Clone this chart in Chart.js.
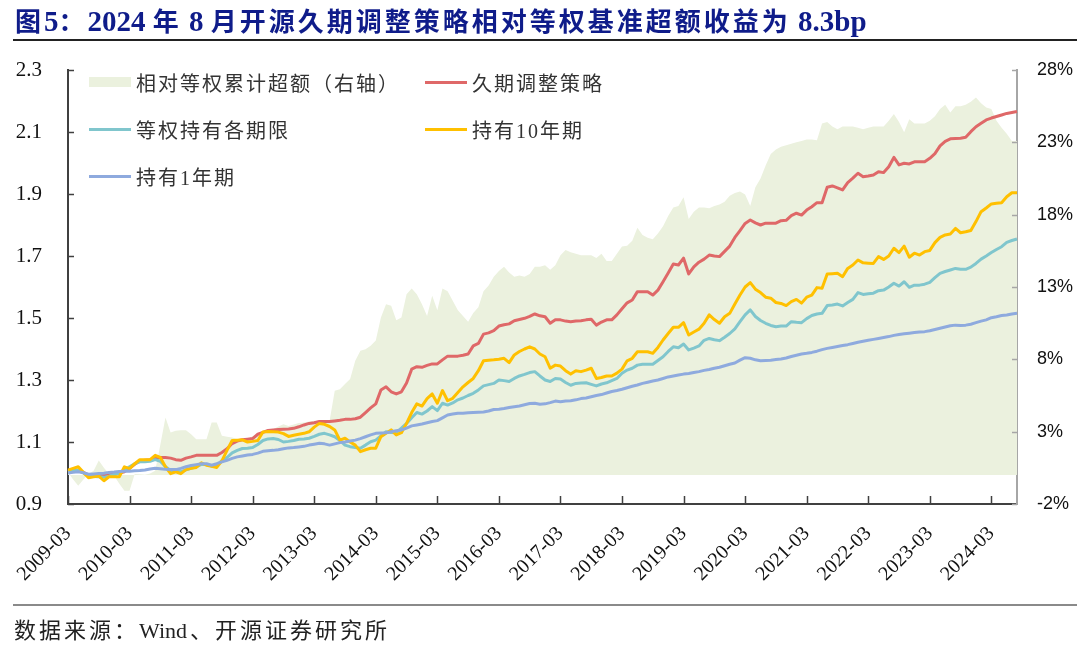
<!DOCTYPE html>
<html>
<head>
<meta charset="utf-8">
<script src="https://cdn.jsdelivr.net/npm/chart.js@4.4.1/dist/chart.umd.min.js"></script>
<style>
  body { margin: 0; background: #fff; }
  #wrap { position: relative; width: 1080px; height: 648px; overflow: hidden; }
  #chart { position: absolute; left: 0; top: 0; }
  #title { position: absolute; left: 15px; top: 1px; font-family: "Liberation Serif", "Noto Sans CJK SC", serif; font-weight: bold; font-size: 26px; letter-spacing: 3px; color: #0f1c8a; white-space: nowrap; }
  #title .n { font-size: 29px; letter-spacing: 0; }
  .rule { position: absolute; left: 13px; width: 1064px; }
  #source { position: absolute; left: 14px; top: 612px; font-family: "Liberation Serif", "Noto Sans CJK SC", serif; font-size: 22px; letter-spacing: 3px; color: #222; white-space: nowrap; }
  #source .w { letter-spacing: 0; margin-right: 3px; }
  .leg { position: absolute; height: 26px; display: flex; align-items: center; font-family: "Liberation Serif", "Noto Sans CJK SC", serif; font-size: 20px; letter-spacing: 2px; color: #333; white-space: nowrap; }
  .sw { display: inline-block; width: 42px; margin-right: 5px; }
</style>
</head>
<body>
<div id="wrap">
  <canvas id="chart" width="1080" height="648"></canvas>
  <div id="title">图<span class="n">5</span>：<span class="n">2024 </span>年<span class="n"> 8 </span>月开源久期调整策略相对等权基准超额收益为<span class="n"> 8.3bp</span></div>
  <div class="rule" style="top:39px;height:2px;background:#222;"></div>
  <div class="rule" style="top:604px;height:2px;background:#8a8a8a;"></div>
  <div id="source">数据来源：<span class="w">Wind</span>、开源证券研究所</div>
  <div id="legend"></div>
</div>
<script>
// month categories 2009-03 .. 2024-08
const months = [];
for (let yr = 2009; yr <= 2024; yr++) {
    for (let m = 1; m <= 12; m++) {
        if ((yr === 2009 && m < 3) || (yr === 2024 && m > 8)) continue;
        months.push(yr + '-' + String(m).padStart(2, '0'));
    }
}

// 相对等权累计超额（右轴）, %
const excess = [
    0.2, -0.3, -0.74, -0.3, 0.07, 0.3, 1.0, 0.5, 0.07, -0.05, -0.6, -1.08,
    -1.08, 0.07, 0.05, 0.02, 0.1, 0.3, 2.1, 3.98, 2.94, 3.06, 3.1, 3.1,
    2.83, 2.48, 2.48, 2.48, 3.63, 3.63, 2.71, 2.65, 2.6, 2.5, 2.37, 2.5,
    2.7, 2.83, 3.0, 3.1, 3.17, 3.35, 3.52, 3.4, 3.5, 3.6, 3.63, 3.7,
    3.75, 3.7, 3.6, 3.76, 5.83, 5.94, 6.3, 6.64, 7.9, 8.6, 8.7, 8.94,
    9.3, 10.9, 11.8, 11.7, 10.7, 10.9, 12.5, 12.9, 12.5, 11.8, 11.0, 12.4,
    11.4, 12.9, 12.7, 12.05, 11.4, 11.0, 10.6, 11.2, 11.6, 12.7, 13.1, 13.7,
    14.1, 14.4, 14.0, 13.7, 13.8, 13.7, 13.9, 14.4, 14.4, 14.5, 14.2, 14.5,
    15.2, 15.55, 15.4, 15.3, 15.2, 15.2, 15.2, 15.0, 15.3, 14.8, 14.8, 15.3,
    15.8, 15.85, 16.2, 17.1, 16.6, 16.4, 16.3, 16.7, 17.2, 17.9, 18.5, 18.6,
    19.2, 17.7, 18.2, 18.5, 18.5, 18.45, 18.6, 18.7, 18.9, 19.3, 19.5, 19.6,
    19.4, 18.6, 19.9, 20.5, 21.4, 22.2, 22.5, 22.7, 22.8, 22.9, 23.0, 23.1,
    23.2, 23.2, 23.15, 24.3, 24.4, 24.1, 23.9, 24.1, 24.1, 24.1, 24.0, 23.9,
    24.0, 24.1, 24.1, 24.1, 24.5, 24.95, 24.4, 23.7, 24.6, 24.3, 24.3, 24.3,
    24.5, 24.8, 25.3, 25.6, 25.07, 25.5, 25.5, 25.6, 25.8, 26.1, 25.7, 25.4,
    25.3, 24.5, 24.0, 23.6, 23.1, 23.1
];

// 久期调整策略
const strategy = [
    1.004, 1.007, 1.009, 1.002, 0.993, 0.993, 0.994, 0.993, 0.995, 0.996, 1.000, 1.004,
    1.015, 1.028, 1.039, 1.041, 1.043, 1.047, 1.050, 1.050, 1.048, 1.043, 1.041, 1.048,
    1.052, 1.057, 1.057, 1.057, 1.057, 1.057, 1.066, 1.078, 1.095, 1.103, 1.107, 1.109,
    1.111, 1.125, 1.131, 1.137, 1.139, 1.140, 1.141, 1.142, 1.144, 1.149, 1.155, 1.160,
    1.162, 1.166, 1.166, 1.166, 1.168, 1.170, 1.173, 1.173, 1.175, 1.180, 1.195, 1.210,
    1.223, 1.268, 1.278, 1.262, 1.255, 1.262, 1.290, 1.335, 1.343, 1.341, 1.347, 1.352,
    1.352, 1.365, 1.377, 1.377, 1.377, 1.380, 1.384, 1.410, 1.418, 1.448, 1.452, 1.459,
    1.474, 1.478, 1.481, 1.491, 1.495, 1.499, 1.505, 1.513, 1.507, 1.504, 1.483, 1.494,
    1.494, 1.490, 1.488, 1.490, 1.491, 1.494, 1.496, 1.477, 1.487, 1.494, 1.494, 1.510,
    1.530, 1.549, 1.558, 1.585, 1.585, 1.585, 1.574, 1.590, 1.617, 1.645, 1.674, 1.671,
    1.693, 1.642, 1.665, 1.680, 1.690, 1.703, 1.700, 1.698, 1.715, 1.732, 1.760, 1.782,
    1.805, 1.816, 1.807, 1.800, 1.806, 1.806, 1.806, 1.814, 1.815, 1.830, 1.838, 1.832,
    1.848, 1.859, 1.872, 1.872, 1.922, 1.926, 1.920, 1.913, 1.937, 1.951, 1.967, 1.956,
    1.958, 1.961, 1.972, 1.969, 1.988, 2.018, 1.994, 1.999, 1.997, 2.004, 2.004, 2.004,
    2.015, 2.030, 2.055, 2.070, 2.078, 2.079, 2.080, 2.083, 2.101, 2.117, 2.128, 2.139,
    2.145, 2.150, 2.155, 2.160, 2.163, 2.166
];

// 等权持有各期限
const equalWeight = [
    1.004, 1.008, 1.009, 1.000, 0.990, 0.989, 0.988, 0.986, 0.990, 0.995, 1.000, 1.009,
    1.020, 1.030, 1.036, 1.036, 1.038, 1.043, 1.038, 1.020, 1.008, 1.006, 1.004, 1.010,
    1.015, 1.020, 1.028, 1.027, 1.022, 1.025, 1.040, 1.050, 1.065, 1.073, 1.079, 1.080,
    1.082, 1.092, 1.105, 1.110, 1.111, 1.108, 1.100, 1.102, 1.105, 1.109, 1.110, 1.112,
    1.118, 1.125, 1.128, 1.123, 1.117, 1.105, 1.090, 1.085, 1.082, 1.080, 1.090, 1.101,
    1.106, 1.120, 1.133, 1.131, 1.130, 1.145, 1.160, 1.178, 1.195, 1.190, 1.200, 1.214,
    1.201, 1.225, 1.219, 1.226, 1.236, 1.242, 1.250, 1.257, 1.268, 1.281, 1.285, 1.289,
    1.300, 1.298, 1.295, 1.305, 1.313, 1.318, 1.324, 1.327, 1.313, 1.300, 1.295, 1.305,
    1.303, 1.292, 1.283, 1.289, 1.290, 1.291, 1.286, 1.281, 1.287, 1.291, 1.298, 1.305,
    1.322, 1.332, 1.338, 1.348, 1.351, 1.351, 1.351, 1.363, 1.375, 1.392, 1.407, 1.404,
    1.416, 1.397, 1.403, 1.410, 1.428, 1.434, 1.430, 1.427, 1.438, 1.450, 1.465, 1.488,
    1.510, 1.526, 1.505, 1.492, 1.483, 1.476, 1.472, 1.474, 1.474, 1.488, 1.486, 1.485,
    1.498, 1.508, 1.513, 1.515, 1.540, 1.542, 1.545, 1.539, 1.550, 1.560, 1.582, 1.576,
    1.578, 1.580, 1.588, 1.590, 1.600, 1.612, 1.603, 1.617, 1.599, 1.606, 1.606, 1.609,
    1.615, 1.630, 1.644, 1.650, 1.655, 1.660, 1.657, 1.657, 1.664, 1.676, 1.690, 1.700,
    1.711, 1.721, 1.730, 1.744, 1.750, 1.755
];

// 持有10年期
const hold10y = [
    1.009, 1.015, 1.020, 1.002, 0.985, 0.988, 0.990, 0.975, 0.988, 0.988, 0.988, 1.020,
    1.014, 1.030, 1.043, 1.043, 1.043, 1.057, 1.050, 1.020, 0.998, 1.004, 0.998, 1.011,
    1.015, 1.018, 1.033, 1.025, 1.022, 1.018, 1.039, 1.073, 1.105, 1.106, 1.107, 1.100,
    1.102, 1.105, 1.132, 1.134, 1.133, 1.132, 1.127, 1.118, 1.122, 1.125, 1.128, 1.133,
    1.148, 1.160, 1.157, 1.150, 1.139, 1.106, 1.112, 1.100, 1.090, 1.069, 1.075, 1.080,
    1.080, 1.117, 1.128, 1.139, 1.123, 1.130, 1.160, 1.195, 1.223, 1.216, 1.240, 1.255,
    1.225, 1.266, 1.233, 1.241, 1.260, 1.278, 1.292, 1.305, 1.330, 1.362, 1.364, 1.365,
    1.367, 1.370, 1.356, 1.381, 1.392, 1.400, 1.407, 1.400, 1.384, 1.375, 1.338, 1.348,
    1.345, 1.330, 1.319, 1.330, 1.327, 1.332, 1.338, 1.305, 1.308, 1.313, 1.313, 1.322,
    1.335, 1.362, 1.370, 1.391, 1.391, 1.391, 1.386, 1.405, 1.429, 1.450, 1.470, 1.470,
    1.485, 1.445, 1.455, 1.464, 1.483, 1.510, 1.495, 1.483, 1.504, 1.515, 1.545, 1.574,
    1.600, 1.614, 1.593, 1.582, 1.567, 1.564, 1.550, 1.547, 1.540, 1.553, 1.560, 1.548,
    1.567, 1.574, 1.598, 1.596, 1.642, 1.643, 1.644, 1.633, 1.660, 1.671, 1.687, 1.678,
    1.677, 1.676, 1.698, 1.689, 1.700, 1.725, 1.711, 1.732, 1.696, 1.709, 1.703, 1.714,
    1.718, 1.743, 1.760, 1.768, 1.771, 1.789, 1.775, 1.778, 1.782, 1.811, 1.843, 1.855,
    1.868, 1.870, 1.872, 1.891, 1.904, 1.904
];

// 持有1年期
const hold1y = [
    1.000, 1.002, 1.004, 1.001, 0.996, 0.997, 0.998, 0.999, 1.002, 1.003, 1.005, 1.006,
    1.006, 1.007, 1.008, 1.010, 1.013, 1.015, 1.014, 1.012, 1.011, 1.011, 1.015, 1.020,
    1.024, 1.027, 1.030, 1.030, 1.025, 1.030, 1.036, 1.041, 1.047, 1.052, 1.055, 1.058,
    1.060, 1.064, 1.070, 1.072, 1.073, 1.075, 1.078, 1.081, 1.082, 1.084, 1.086, 1.090,
    1.093, 1.096, 1.094, 1.090, 1.094, 1.098, 1.100, 1.103, 1.106, 1.111, 1.117, 1.123,
    1.128, 1.129, 1.130, 1.133, 1.136, 1.139, 1.145, 1.152, 1.155, 1.158, 1.162, 1.166,
    1.169, 1.178, 1.187, 1.190, 1.193, 1.193, 1.194, 1.195, 1.196, 1.197, 1.200, 1.205,
    1.206, 1.208, 1.211, 1.214, 1.216, 1.220, 1.224, 1.225, 1.222, 1.223, 1.227, 1.232,
    1.230, 1.232, 1.233, 1.236, 1.240, 1.242, 1.246, 1.250, 1.253, 1.258, 1.263, 1.266,
    1.270, 1.275, 1.280, 1.284, 1.289, 1.293, 1.297, 1.300, 1.305, 1.310, 1.313, 1.316,
    1.319, 1.321, 1.324, 1.327, 1.331, 1.334, 1.338, 1.341, 1.346, 1.351, 1.355, 1.364,
    1.372, 1.370, 1.365, 1.362, 1.363, 1.364, 1.366, 1.368, 1.371, 1.376, 1.380, 1.384,
    1.386, 1.389, 1.393, 1.398, 1.402, 1.405, 1.408, 1.411, 1.414, 1.418, 1.422, 1.425,
    1.428, 1.431, 1.434, 1.437, 1.440, 1.444, 1.447, 1.449, 1.451, 1.453, 1.455, 1.456,
    1.459, 1.463, 1.467, 1.471, 1.475, 1.477, 1.476, 1.477, 1.480, 1.485, 1.490, 1.494,
    1.501, 1.504, 1.508, 1.510, 1.513, 1.515
];

const leftTicks = [0.9, 2.3, 0.2];   // min, max, step
const rightTicks = [-2, 28, 5];

const COLORS = {
    excess: '#ebf1de',
    strategy: '#df6868',
    equal: '#80c6cd',
    y10: '#ffc000',
    y1: '#8eaade'
};

// Plot box in page pixels
const PLOT = { left: 68, right: 1017, top: 70, bottom: 504 };

// short inward tick marks, like the original
const inwardTicks = {
    id: 'inwardTicks',
    afterDraw(chart) {
        const ctx = chart.ctx;
        const { x, y, y2 } = chart.scales;
        ctx.save();
        ctx.lineWidth = 1.5;
        ctx.strokeStyle = '#404040';
        ctx.beginPath();
        y.ticks.forEach((t, i) => {
            const p = Math.round(y.getPixelForTick(i)) + 0.5;
            ctx.moveTo(y.right, p);
            ctx.lineTo(y.right + 6, p);
        });
        x.ticks.forEach((t, i) => {
            if (!months[i].endsWith('-03')) return;
            const p = Math.round(x.getPixelForTick(i)) + 0.5;
            ctx.moveTo(p, x.top);
            ctx.lineTo(p, x.top - 8);
        });
        ctx.stroke();
        ctx.strokeStyle = '#a6a6a6';
        ctx.beginPath();
        y2.ticks.forEach((t, i) => {
            const p = Math.round(y2.getPixelForTick(i)) + 0.5;
            ctx.moveTo(y2.left - 5, p);
            ctx.lineTo(y2.left, p);
        });
        ctx.stroke();
        ctx.restore();
    }
};

function lineSet(label, data, color, order) {
    return {
        label: label,
        data: data,
        borderColor: color,
        backgroundColor: color,
        borderWidth: 3,
        pointRadius: 0,
        tension: 0,
        borderJoinStyle: 'round',
        yAxisID: 'y',
        order: order
    };
}

const ctx = document.getElementById('chart').getContext('2d');
const chart = new Chart(ctx, {
    type: 'line',
    data: {
        labels: months,
        datasets: [
            {
                label: '相对等权累计超额（右轴）',
                data: excess,
                borderWidth: 0,
                borderColor: COLORS.excess,
                backgroundColor: COLORS.excess,
                pointRadius: 0,
                fill: 'origin',
                yAxisID: 'y2',
                order: 10
            },
            lineSet('久期调整策略', strategy, COLORS.strategy, 4),
            lineSet('等权持有各期限', equalWeight, COLORS.equal, 3),
            lineSet('持有10年期', hold10y, COLORS.y10, 2),
            lineSet('持有1年期', hold1y, COLORS.y1, 1)
        ]
    },
    options: {
        responsive: false,
        animation: false,
        devicePixelRatio: 1,
        layout: { padding: { top: PLOT.top, left: 0, right: 0, bottom: 0 } },
        plugins: {
            legend: { display: false },
            tooltip: { enabled: false }
        },
        scales: {
            x: {
                grid: { display: false, drawTicks: false },
                border: { display: true, color: '#404040', width: 2 },
                afterFit: (s) => { s.height = 648 - PLOT.bottom; },
                ticks: {
                    autoSkip: false,
                    minRotation: 45,
                    maxRotation: 45,
                    padding: 18,
                    color: '#111',
                    font: { family: 'Liberation Serif', size: 20 },
                    callback: function (v, i) {
                        return months[i].endsWith('-03') ? months[i] : '';
                    }
                }
            },
            y: {
                position: 'left',
                min: leftTicks[0],
                max: leftTicks[1],
                grid: { display: false, drawTicks: false },
                border: { display: true, color: '#404040', width: 2 },
                afterFit: (s) => { s.width = PLOT.left; },
                ticks: {
                    stepSize: leftTicks[2],
                    padding: 26,
                    color: '#111',
                    font: { family: 'Liberation Serif', size: 21 },
                    callback: (v) => v.toFixed(1)
                }
            },
            y2: {
                position: 'right',
                min: rightTicks[0],
                max: rightTicks[1],
                grid: { display: false, drawTicks: false },
                border: { display: true, color: '#a6a6a6', width: 2 },
                afterFit: (s) => { s.width = 1080 - PLOT.right; },
                ticks: {
                    stepSize: rightTicks[2],
                    padding: 20,
                    color: '#111',
                    font: { family: 'Liberation Sans', size: 18 },
                    callback: (v) => v + '%'
                }
            }
        }
    },
    plugins: [inwardTicks]
});

// legend in two columns, built from the datasets
const legendPos = [[89, 82], [425, 82], [89, 129], [425, 129], [89, 176]];
const legendBox = document.getElementById('legend');
chart.data.datasets.forEach((ds, i) => {
    const item = document.createElement('div');
    item.className = 'leg';
    item.style.left = legendPos[i][0] + 'px';
    item.style.top = (legendPos[i][1] - 13) + 'px';
    const sw = document.createElement('span');
    sw.className = 'sw';
    sw.style.height = ds.fill ? '10px' : '3px';
    sw.style.background = ds.backgroundColor;
    const txt = document.createElement('span');
    txt.textContent = ds.label;
    item.appendChild(sw);
    item.appendChild(txt);
    legendBox.appendChild(item);
});
</script>
</body>
</html>
